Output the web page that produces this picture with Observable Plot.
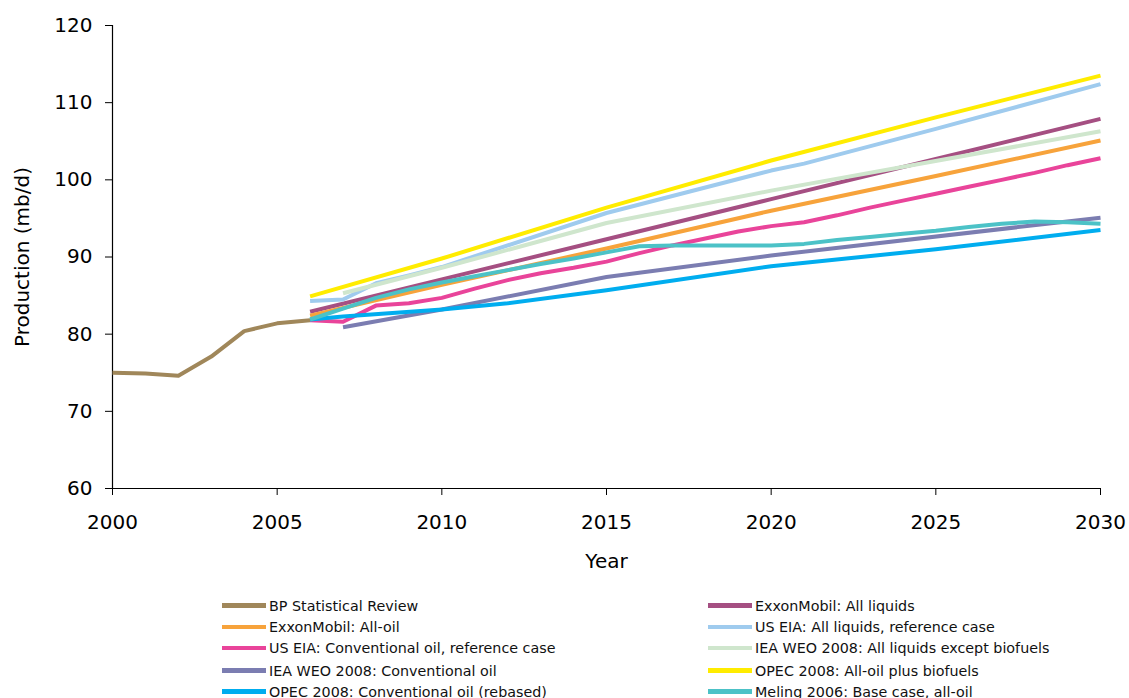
<!DOCTYPE html>
<html>
<head>
<meta charset="utf-8">
<script src="https://cdn.jsdelivr.net/npm/d3@7"></script>
<script src="https://cdn.jsdelivr.net/npm/@observablehq/plot@0.6"></script>
<style>
  html, body { margin: 0; padding: 0; background: #fff; }
  body { width: 1129px; height: 698px; position: relative; overflow: hidden; font-family: "DejaVu Sans", Verdana, sans-serif; }
  #chart { position: absolute; left: 0; top: 0; }
  .leg { position: absolute; font-size: 14.3px; color: #111; white-space: nowrap; display: flex; align-items: center; }
  .leg span.sw { display: inline-block; width: 44px; height: 4.5px; margin-right: 3px; }
</style>
</head>
<body>
<div id="chart"></div>
<div id="legend"></div>
<script>
// ---- Data ----
const seriesNames = [
  "BP Statistical Review",
  "ExxonMobil: All liquids",
  "ExxonMobil: All-oil",
  "US EIA: All liquids, reference case",
  "US EIA: Conventional oil, reference case",
  "IEA WEO 2008: All liquids except biofuels",
  "IEA WEO 2008: Conventional oil",
  "OPEC 2008: All-oil plus biofuels",
  "OPEC 2008: Conventional oil (rebased)",
  "Meling 2006: Base case, all-oil"
];
const seriesColors = [
  "#a0875a", "#a54f82", "#f7a33b", "#9fcbee", "#e9449a",
  "#cfe6cd", "#7b7db1", "#ffec00", "#00adef", "#4cc2c7"
];

const bpYears = [2000, 2001, 2002, 2003, 2004, 2005, 2006];
const bpValues = [75.0, 74.9, 74.6, 77.1, 80.4, 81.4, 81.8];

const exxonLiquidsYears = [2006, 2010, 2015, 2020, 2025, 2030];
const exxonLiquidsValues = [82.9, 87.1, 92.3, 97.5, 102.7, 107.9];

const exxonOilYears = [2006, 2010, 2015, 2020, 2025, 2030];
const exxonOilValues = [82.4, 86.4, 91.1, 96.0, 100.5, 105.1];

const eiaLiquidsYears = [2006, 2007, 2008, 2009, 2010, 2015, 2020, 2021, 2025, 2030];
const eiaLiquidsValues = [84.3, 84.5, 86.6, 87.6, 88.7, 95.7, 101.2, 102.1, 106.6, 112.4];

const eiaConvYears = [2006, 2007, 2008, 2009, 2010, 2011, 2012, 2013, 2014, 2015, 2016, 2017, 2018,
  2019, 2020, 2021, 2022, 2023, 2024, 2025, 2026, 2027, 2028, 2029, 2030];
const eiaConvValues = [81.8, 81.6, 83.7, 84.0, 84.7, 85.9, 87.0, 87.9, 88.6, 89.4, 90.5, 91.5, 92.4,
  93.3, 94.0, 94.5, 95.4, 96.4, 97.3, 98.2, 99.1, 100.0, 100.9, 101.9, 102.8];

const ieaLiquidsYears = [2007, 2010, 2015, 2020, 2030];
const ieaLiquidsValues = [85.3, 88.6, 94.4, 98.6, 106.3];

const ieaConvYears = [2007, 2010, 2015, 2020, 2030];
const ieaConvValues = [80.9, 83.2, 87.4, 90.2, 95.1];

const opecAllYears = [2006, 2010, 2015, 2020, 2025, 2030];
const opecAllValues = [84.9, 89.8, 96.4, 102.5, 108.1, 113.5];

const opecConvYears = [2006, 2007, 2010, 2012, 2015, 2020, 2025, 2030];
const opecConvValues = [81.9, 82.3, 83.2, 84.0, 85.7, 88.8, 91.0, 93.5];

const melingYears = [2006, 2007, 2008, 2009, 2010, 2011, 2012, 2013, 2014, 2015, 2016, 2017, 2018,
  2019, 2020, 2021, 2022, 2023, 2024, 2025, 2026, 2027, 2028, 2029, 2030];
const melingValues = [81.9, 83.3, 84.7, 85.8, 86.7, 87.5, 88.3, 89.1, 89.8, 90.6, 91.4, 91.5, 91.5,
  91.5, 91.5, 91.7, 92.2, 92.6, 93.0, 93.4, 93.9, 94.3, 94.6, 94.5, 94.3];

const xTicks = [2000, 2005, 2010, 2015, 2020, 2025, 2030];
const yTicks = [60, 70, 80, 90, 100, 110, 120];

// ---- Build long table ----
const seriesData = [
  [bpYears, bpValues],
  [exxonLiquidsYears, exxonLiquidsValues],
  [exxonOilYears, exxonOilValues],
  [eiaLiquidsYears, eiaLiquidsValues],
  [eiaConvYears, eiaConvValues],
  [ieaLiquidsYears, ieaLiquidsValues],
  [ieaConvYears, ieaConvValues],
  [opecAllYears, opecAllValues],
  [opecConvYears, opecConvValues],
  [melingYears, melingValues]
];
const rows = [];
seriesData.forEach(([ys, vs], i) => {
  ys.forEach((y, j) => rows.push({series: seriesNames[i], year: y, value: vs[j]}));
});

const W = 1129, H = 590;
const plot = Plot.plot({
  width: W,
  height: H,
  marginLeft: 112,
  marginRight: 29,
  marginTop: 25,
  marginBottom: 102,
  style: {fontFamily: "DejaVu Sans, Verdana, sans-serif", fontSize: "20px", color: "#000", background: "#fff"},
  x: {domain: [2000, 2030]},
  y: {domain: [60, 120]},
  color: {domain: seriesNames, range: seriesColors},
  marks: [
    Plot.axisY({ticks: yTicks, tickSize: 7, tickPadding: 13, label: null, fontSize: 20, stroke: "#000"}),
    Plot.axisX({ticks: xTicks, tickSize: 7, tickPadding: 19, tickFormat: d => String(d), label: null, fontSize: 20, stroke: "#000"}),
    Plot.ruleX([2000], {stroke: "#000", strokeWidth: 1.2}),
    Plot.ruleY([60], {stroke: "#000", strokeWidth: 1.2}),
    ...seriesNames.map(name =>
      Plot.line(rows.filter(r => r.series === name), {
        x: "year", y: "value", stroke: "series", strokeWidth: 4, strokeLinejoin: "round", strokeLinecap: "butt"
      })
    ),
    Plot.text(["Production (mb/d)"], {frameAnchor: "left", dx: -90, rotate: -90, textAnchor: "middle", lineAnchor: "middle", fontSize: 20, fill: "#000"}),
    Plot.text(["Year"], {frameAnchor: "bottom", dy: 73, textAnchor: "middle", lineAnchor: "middle", fontSize: 20, fill: "#000"})
  ]
});
document.getElementById("chart").appendChild(plot);

// ---- Legend ----
const legend = document.getElementById("legend");
const rowY = [605.5, 627, 648, 670.5, 691.5];
seriesNames.forEach((name, i) => {
  const col = i % 2, row = Math.floor(i / 2);
  const div = document.createElement("div");
  div.className = "leg";
  div.style.left = (col === 0 ? 222 : 708) + "px";
  div.style.top = (rowY[row] - 9) + "px";
  div.style.height = "18px";
  const sw = document.createElement("span");
  sw.className = "sw";
  sw.style.background = seriesColors[i];
  div.appendChild(sw);
  div.appendChild(document.createTextNode(name));
  legend.appendChild(div);
});
</script>
</body>
</html>
